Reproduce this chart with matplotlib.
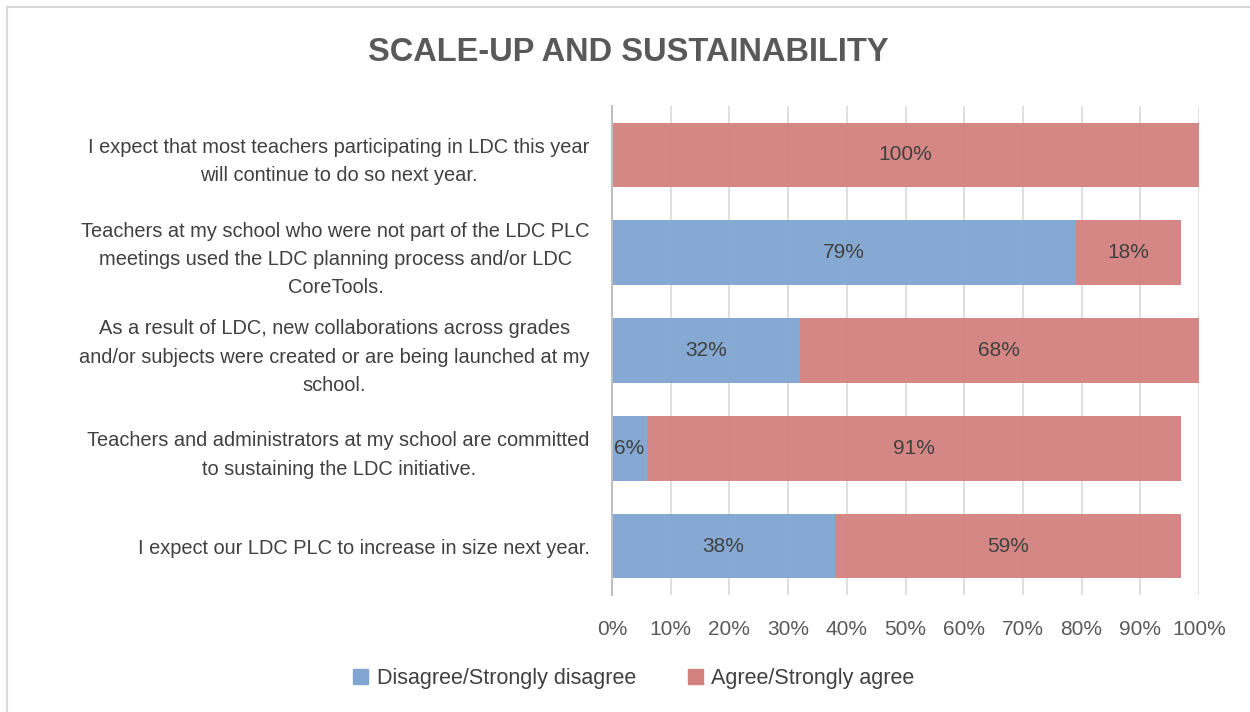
import matplotlib.pyplot as plt
from matplotlib.lines import Line2D

statements = [
    "I expect that most teachers participating in LDC this year\nwill continue to do so next year.",
    "Teachers at my school who were not part of the LDC PLC\nmeetings used the LDC planning process and/or LDC\nCoreTools.",
    "As a result of LDC, new collaborations across grades\nand/or subjects were created or are being launched at my\nschool.",
    "Teachers and administrators at my school are committed\nto sustaining the LDC initiative.",
    "I expect our LDC PLC to increase in size next year.",
]
disagree = [0, 79, 32, 6, 38]
agree = [100, 18, 68, 91, 59]

blue = '#7FA5D0'
red = '#D3817E'
text_col = '#404040'

plt.rcParams['font.family'] = ['Liberation Sans', 'DejaVu Sans']

fig = plt.figure(figsize=(12.5, 7.12), dpi=100)
ax = fig.add_axes([0.4896, 0.1643, 0.4696, 0.6868])

y = list(range(len(statements)))
ax.barh(y, disagree, height=0.66, color=blue, alpha=0.95, zorder=2)
ax.barh(y, agree, left=disagree, height=0.66, color=red, alpha=0.95, zorder=2)

for i in y:
    if disagree[i] > 0:
        ax.text(disagree[i] / 2, i, f"{disagree[i]}%", ha='center', va='center',
                fontsize=15, color=text_col, zorder=3)
    ax.text(disagree[i] + agree[i] / 2, i, f"{agree[i]}%", ha='center', va='center',
            fontsize=15, color=text_col, zorder=3)

ax.set_xlim(0, 100)
ax.set_ylim(len(statements) - 0.5, -0.5)
ax.set_xticks(range(0, 101, 10))
ax.set_xticklabels([f"{v}%" for v in range(0, 101, 10)], fontsize=15, color='#595959')
ax.set_yticks(y)
ax.set_yticklabels(statements, fontsize=14.4, color=text_col,
                   multialignment='center', linespacing=1.62)
ax.tick_params(axis='x', length=0, pad=18)
ax.tick_params(axis='y', length=0, pad=16)
ax.grid(axis='x', color='#D9D9D9', linewidth=1.2, zorder=1)
ax.set_axisbelow(True)
for s in ['top', 'right', 'bottom']:
    ax.spines[s].set_visible(False)
ax.spines['left'].set_color('#BFBFBF')
ax.spines['left'].set_linewidth(1.5)

fig.text(0.503, 0.926, "SCALE-UP AND SUSTAINABILITY", ha='center', va='center',
         fontsize=23.5, fontweight='bold', color='#595959')

handles = [plt.Rectangle((0, 0), 1, 1, color=blue), plt.Rectangle((0, 0), 1, 1, color=red)]
fig.legend(handles, ['Disagree/Strongly disagree', 'Agree/Strongly agree'],
           loc='center', bbox_to_anchor=(0.507, 0.047), ncol=2, frameon=False,
           fontsize=15.5, handlelength=0.7, handleheight=0.7, columnspacing=2.4,
           handletextpad=0.4, labelcolor=text_col)

# chart border (left and top edges only visible)
fig.add_artist(Line2D([7 / 1250, 7 / 1250], [0, 1 - 7 / 712], color='#D9D9D9', lw=1.5))
fig.add_artist(Line2D([7 / 1250, 1], [1 - 7 / 712, 1 - 7 / 712], color='#D9D9D9', lw=1.5))

fig.savefig('out.png', dpi=100)
